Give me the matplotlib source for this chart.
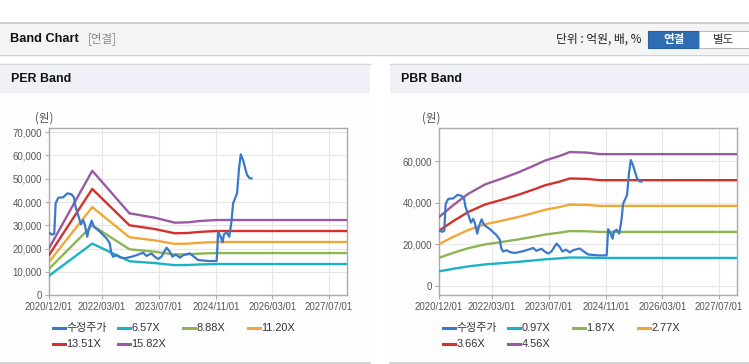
import matplotlib
matplotlib.use("Agg")
import matplotlib.pyplot as plt
from matplotlib.patches import Rectangle
from matplotlib.lines import Line2D
from matplotlib.ticker import FuncFormatter
import pandas as pd

# ---------------- data ----------------
price_dates = ["2020-12-09","2020-12-29","2021-01-15","2021-01-27","2021-02-19","2021-04-01","2021-05-08",
               "2021-06-12","2021-07-04","2021-07-16","2021-08-08","2021-09-01","2021-09-20","2021-10-05",
               "2021-10-25","2021-11-09","2021-12-02","2021-12-21","2022-02-11","2022-04-08","2022-05-06",
               "2022-05-20","2022-06-04","2022-07-03","2022-08-01","2022-09-13","2022-11-10","2022-12-22",
               "2023-02-17","2023-03-16","2023-04-29","2023-05-27","2023-06-25","2023-07-23","2023-09-05",
               "2023-10-03","2023-10-26","2023-11-24","2023-12-28","2024-01-26","2024-03-22","2024-04-20",
               "2024-06-02","2024-08-27","2024-11-08","2024-11-21","2024-12-12","2024-12-29","2025-01-09",
               "2025-02-02","2025-02-24","2025-03-15","2025-03-29","2025-05-02","2025-05-19","2025-06-03",
               "2025-06-22","2025-07-27","2025-08-19","2025-09-03"]
price_values = [26580, 26000, 26500, 39440, 41840, 42000, 43730, 43300, 41840, 38000, 34420, 30430, 32280,
                30140, 25120, 28720, 32000, 29400, 27270, 24430, 22290, 18000, 16550, 17200, 16290, 15860,
                16550, 17200, 18260, 16900, 17900, 16550, 15560, 16550, 20410, 18700, 16550, 17480, 16120,
                17200, 18000, 16840, 15130, 14700, 14700, 27270, 25120, 22720, 26120, 27000, 25120, 31560,
                39440, 43730, 54440, 60450, 58000, 51570, 50160, 50160]

# EPS (PER band base) and BPS (PBR band base)
eps_dates = ["2020-12-01","2021-12-07","2022-10-22","2023-05-27","2023-11-15","2024-03-07","2024-06-15",
             "2024-11-08","2027-12-01"]
eps_values = [1274, 3375, 2222, 2103, 1968, 1978, 2013, 2040, 2040]
per_multiples = [6.57, 8.88, 11.20, 13.51, 15.82]

bps_dates = ["2020-12-01","2021-04-01","2021-08-08","2022-01-01","2022-05-22","2022-10-10","2023-03-01",
             "2023-05-28","2023-10-04","2023-12-28","2024-05-19","2024-09-13","2027-12-01"]
bps_values = [7250, 8500, 9700, 10700, 11300, 11950, 12700, 13200, 13700, 14100, 14050, 13880, 13880]
pbr_multiples = [0.97, 1.87, 2.77, 3.66, 4.56]

x_tick_labels = ["2020/12/01", "2022/03/01", "2023/07/01", "2024/11/01", "2026/03/01", "2027/07/01"]
per_yticks = [0, 10000, 20000, 30000, 40000, 50000, 60000, 70000]
pbr_yticks = [0, 20000, 40000, 60000]

price_label = "수정주가"
colors = ["#1bb2c6", "#8cb554", "#f0a73a", "#d2322b", "#985aa0"]
price_color = "#3a79c9"

# ---------------- figure ----------------
W, H = 749, 364
fig = plt.figure(figsize=(W / 100, H / 100), dpi=100)
fig.patch.set_facecolor("white")
FAM = ["Liberation Sans", "Noto Sans CJK KR"]
FAMK = ["Noto Sans CJK KR", "DejaVu Sans"]

def fx(x): return x / W
def fy(y): return 1 - y / H

def rect(x0, y0, x1, y1, fc, ec="none", lw=0, z=-5):
    fig.patches.append(Rectangle((fx(x0), fy(y1)), fx(x1 - x0), (y1 - y0) / H, transform=fig.transFigure,
                                 facecolor=fc, edgecolor=ec, linewidth=lw, zorder=z))

def hline(x0, x1, y, color, lw=1.0, z=3):
    fig.add_artist(Line2D([fx(x0), fx(x1)], [fy(y), fy(y)], transform=fig.transFigure, color=color, lw=lw,
                          zorder=z))

# top header bar
rect(0, 23, 749, 54, "#f4f4f4")
hline(0, 749, 22.5, "#c8c8c8", 1.2)
hline(0, 749, 54.5, "#d0d0d0", 1.0)
fig.text(fx(10), fy(39), "Band Chart", family=FAM, fontweight="bold",
         fontsize=9.2, color="#111111", va="center", ha="left")
fig.text(fx(88), fy(39), "[연결]", family=FAMK, fontsize=8.3, color="#888888", va="center", ha="left")
fig.text(fx(642), fy(39), "단위 : 억원, 배, %", family=FAMK, fontsize=8.5, color="#222222", va="center", ha="right")
rect(648, 31, 699, 48, "#2f6db3", ec="#285f9e", lw=0.8, z=-4)
rect(699, 31, 749, 48, "#ffffff", ec="#bbbbbb", lw=0.8, z=-4)
fig.text(fx(673.5), fy(39.5), "연결", family=FAMK, fontsize=8.3, fontweight="bold", color="white", va="center", ha="center")
fig.text(fx(724), fy(39.5), "별도", family=FAMK, fontsize=8.3, color="#333333", va="center", ha="center")

# panels
for (px0, px1, title) in [(0, 370, "PER Band"), (390, 749, "PBR Band")]:
    rect(px0, 64, px1, 362, "#fdfdfd")
    rect(px0, 64, px1, 93, "#eef2f7", z=-4)
    hline(px0, px1, 64, "#d8d8d8", 1.0)
    hline(px0, px1, 362.5, "#cccccc", 1.2)
    fig.text(fx(px0 + 11), fy(79), title, family=FAM, fontweight="bold", fontsize=8.9, color="#111111",
             va="center", ha="left")

xmin = pd.Timestamp("2020-12-01")
xmax = pd.Timestamp("2027-12-01")
tick_dates = [pd.Timestamp(t.replace("/", "-")) for t in x_tick_labels]

def make_axes(l, r, t, b, ylim, yticks, base_dates, base_values, mults, offset_x):
    ax = fig.add_axes([fx(l), fy(b), fx(r - l), (b - t) / H])
    ax.set_zorder(1)
    ax.set_facecolor("white")
    ax.set_xlim(xmin, xmax)
    ax.set_ylim(*ylim)
    ax.set_xticks(tick_dates)
    ax.set_xticklabels(x_tick_labels)
    ax.set_yticks(yticks)
    ax.yaxis.set_major_formatter(FuncFormatter(lambda v, p: f"{int(v):,}"))
    ax.grid(True, color="#e6e6e6", lw=0.8)
    ax.set_axisbelow(True)
    for s in ax.spines.values():
        s.set_color("#aaaaaa")
        s.set_linewidth(1.0)
    ax.tick_params(axis="both", colors="#aaaaaa", labelcolor="#555555", labelsize=6.9, length=3, width=0.8, pad=2)
    for lab in ax.get_xticklabels() + ax.get_yticklabels():
        lab.set_family(FAM)
    bd = pd.to_datetime(base_dates)
    handles = []
    pl, = ax.plot(pd.to_datetime(price_dates), price_values, color=price_color, lw=1.6, zorder=5,
                  solid_joinstyle="round")
    handles.append((pl, price_label))
    for m, c in zip(mults, colors):
        ln, = ax.plot(bd, [m * v for v in base_values], color=c, lw=1.7, zorder=4)
        handles.append((ln, f"{m:.2f}X"))
    # legend (manual layout, Highcharts-style)
    for i, (h, lab) in enumerate(handles):
        row, col = divmod(i, 4)
        x0 = offset_x + 53 + col * 65
        y = 328 + row * 16
        hline(x0, x0 + 12, y, h.get_color(), 2.2)
        fig.text(fx(x0 + 13.5), fy(y), lab, family=FAM, fontsize=7.9, color="#333333", va="center", ha="left")
    return ax

ax1 = make_axes(49, 347, 128.3, 295.3, (0, 71600), per_yticks, eps_dates, eps_values, per_multiples, 0)
ax2 = make_axes(439, 737, 128.3, 295.3, (-4460, 75700), pbr_yticks, bps_dates, bps_values, pbr_multiples, 390)

fig.text(fx(44), fy(118), "(원)", family=FAMK, fontsize=8.3, color="#555555", va="center", ha="center")
fig.text(fx(431), fy(118), "(원)", family=FAMK, fontsize=8.3, color="#555555", va="center", ha="center")

fig.savefig("out.png", dpi=100)
